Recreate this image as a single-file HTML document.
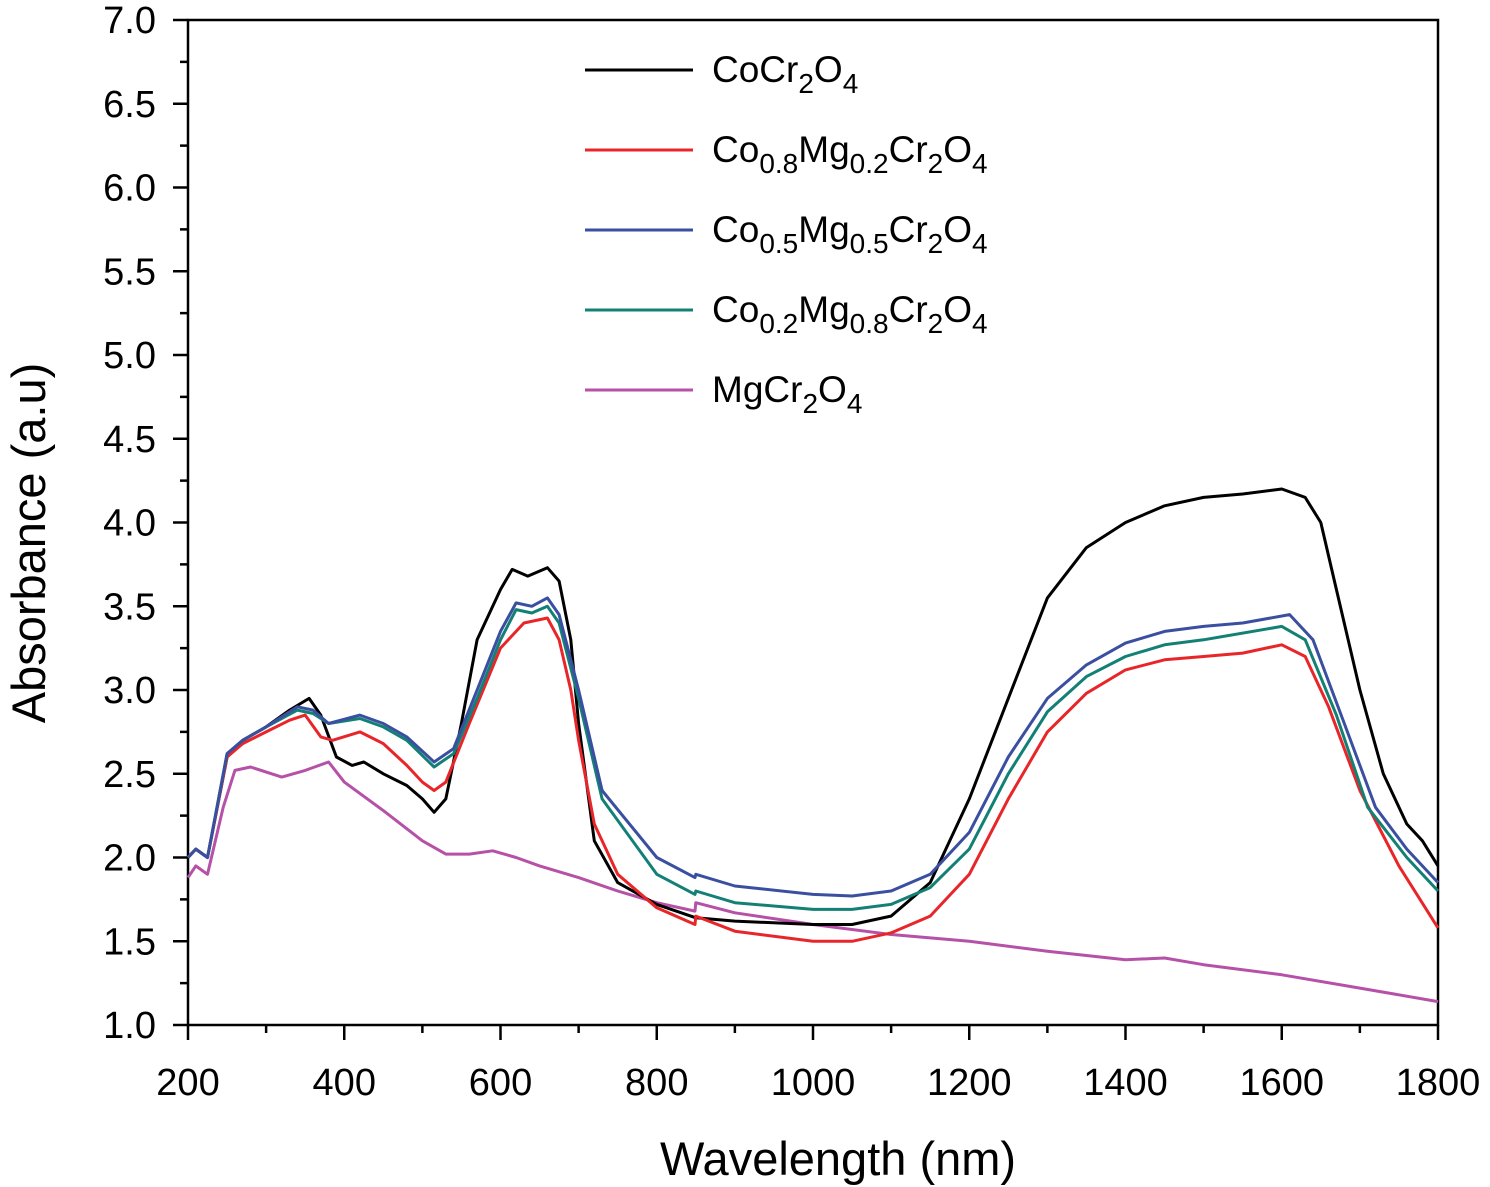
<!DOCTYPE html>
<html><head><meta charset="utf-8"><style>
body{margin:0;background:#fff;}
svg{display:block;font-family:"Liberation Sans",Arial,sans-serif;}
</style></head><body>
<svg id="chart" width="1490" height="1187" viewBox="0 0 1490 1187"></svg>
<script>
const xTicks=[200,400,600,800,1000,1200,1400,1600,1800];
const yTicks=[1.0,1.5,2.0,2.5,3.0,3.5,4.0,4.5,5.0,5.5,6.0,6.5,7.0];
const seriesNames=["CoCr2O4","Co0.8Mg0.2Cr2O4","Co0.5Mg0.5Cr2O4","Co0.2Mg0.8Cr2O4","MgCr2O4"];
const seriesColors=["#000000","#e8262a","#3a4fa0","#138076","#b651a8"];
const blackX=[200,210,225,250,270,300,330,355,370,390,410,425,450,480,500,515,530,550,570,600,615,635,660,675,690,700,720,750,800,850,900,1000,1050,1100,1150,1200,1250,1300,1350,1400,1450,1500,1550,1600,1630,1650,1670,1700,1730,1760,1780,1800];
const blackY=[2.0,2.05,2.0,2.6,2.7,2.78,2.88,2.95,2.85,2.6,2.55,2.57,2.5,2.43,2.35,2.27,2.35,2.8,3.3,3.6,3.72,3.68,3.73,3.65,3.3,2.8,2.1,1.85,1.72,1.64,1.62,1.6,1.6,1.65,1.85,2.35,2.95,3.55,3.85,4.0,4.1,4.15,4.17,4.2,4.15,4.0,3.6,3.0,2.5,2.2,2.1,1.95];
const redX=[200,210,225,250,270,300,330,350,370,385,420,450,480,500,515,530,560,600,630,660,675,690,700,720,750,800,849,850,900,1000,1050,1100,1150,1200,1250,1300,1350,1400,1450,1500,1550,1600,1630,1660,1700,1750,1800];
const redY=[2.0,2.05,2.0,2.6,2.68,2.75,2.82,2.85,2.72,2.7,2.75,2.68,2.55,2.45,2.4,2.45,2.8,3.25,3.4,3.43,3.3,3.0,2.7,2.2,1.9,1.7,1.6,1.65,1.56,1.5,1.5,1.55,1.65,1.9,2.35,2.75,2.98,3.12,3.18,3.2,3.22,3.27,3.2,2.9,2.4,1.95,1.58];
const blueX=[200,210,225,250,270,300,340,360,380,420,450,480,515,540,570,600,620,640,660,675,700,730,800,849,850,900,1000,1050,1100,1150,1200,1250,1300,1350,1400,1450,1500,1550,1610,1640,1680,1720,1760,1800];
const blueY=[2.0,2.05,2.0,2.62,2.7,2.78,2.9,2.88,2.8,2.85,2.8,2.72,2.57,2.65,3.0,3.35,3.52,3.5,3.55,3.45,3.0,2.4,2.0,1.88,1.9,1.83,1.78,1.77,1.8,1.9,2.15,2.6,2.95,3.15,3.28,3.35,3.38,3.4,3.45,3.3,2.8,2.3,2.05,1.85];
const tealX=[200,210,225,250,270,300,340,360,380,420,450,480,515,540,570,600,620,640,660,675,700,730,800,849,850,900,1000,1050,1100,1150,1200,1250,1300,1350,1400,1450,1500,1600,1630,1670,1710,1760,1800];
const tealY=[2.0,2.05,2.0,2.62,2.7,2.78,2.88,2.86,2.8,2.83,2.78,2.7,2.54,2.62,2.95,3.3,3.48,3.46,3.5,3.4,2.95,2.35,1.9,1.78,1.8,1.73,1.69,1.69,1.72,1.82,2.05,2.5,2.87,3.08,3.2,3.27,3.3,3.38,3.3,2.85,2.3,2.0,1.8];
const magX=[200,210,225,245,260,280,320,350,380,400,450,500,530,560,590,620,650,700,750,800,849,850,900,1000,1100,1200,1300,1400,1450,1500,1600,1700,1800];
const magY=[1.88,1.95,1.9,2.3,2.52,2.54,2.48,2.52,2.57,2.45,2.28,2.1,2.02,2.02,2.04,2.0,1.95,1.88,1.8,1.73,1.68,1.73,1.67,1.6,1.54,1.5,1.44,1.39,1.4,1.36,1.3,1.22,1.14];
const allX=[blackX,redX,blueX,tealX,magX];
const allY=[blackY,redY,blueY,tealY,magY];

const NS="http://www.w3.org/2000/svg";
const svg=document.getElementById('chart');
const L=188,R=1438,T=20,B=1025;
const sx=v=>L+(v-200)/1600*(R-L);
const sy=v=>B-(v-1)/6*(B-T);
function mk(tag,attrs,parent){const e=document.createElementNS(NS,tag);for(const k in attrs)e.setAttribute(k,attrs[k]);(parent||svg).appendChild(e);return e;}

const frame=mk('rect',{x:L,y:T,width:R-L,height:B-T,fill:'none',stroke:'#000','stroke-width':2.5});



for(let i=0;i<xTicks.length;i++){
  const x=sx(xTicks[i]);
  const t=mk('line',{x1:x,y1:B,x2:x,y2:B+15,stroke:'#000','stroke-width':2.5});
  
  
  const lb=mk('text',{x:x,y:B+70,'text-anchor':'middle','font-size':38});
  lb.textContent=xTicks[i];
  
  
  if(i<xTicks.length-1){
    const xm=sx((xTicks[i]+xTicks[i+1])/2);
    const m=mk('line',{x1:xm,y1:B,x2:xm,y2:B+8,stroke:'#000','stroke-width':2.5});
    
    
  }
}
for(let i=0;i<yTicks.length;i++){
  const y=sy(yTicks[i]);
  const t=mk('line',{x1:L-15,y1:y,x2:L,y2:y,stroke:'#000','stroke-width':2.5});
  
  
  const lb=mk('text',{x:L-32,y:y+13,'text-anchor':'end','font-size':38});
  lb.textContent=yTicks[i].toFixed(1);
  
  
  if(i<yTicks.length-1){
    const ym=sy((yTicks[i]+yTicks[i+1])/2);
    const m=mk('line',{x1:L-8,y1:ym,x2:L,y2:ym,stroke:'#000','stroke-width':2.5});
    
    
  }
}
const xt=mk('text',{x:838,y:1175,'text-anchor':'middle','font-size':47});
xt.textContent='Wavelength (nm)';


const yt=mk('text',{x:0,y:0,'text-anchor':'middle','font-size':47,transform:'translate(45,543) rotate(-90)'});
yt.textContent='Absorbance (a.u)';



const order=[4,0,1,3,2];
for(const s of order){
  const d=allX[s].map((v,j)=>(j?'L':'M')+sx(v).toFixed(1)+','+sy(allY[s][j]).toFixed(1)).join(' ');
  const p=mk('path',{d:d,fill:'none',stroke:seriesColors[s],'stroke-width':3,'stroke-linejoin':'round'});
  
  
}

const S='font-size="28"';
const legendHTML=[
 `CoCr<tspan dy="11" ${S}>2</tspan><tspan dy="-11">O</tspan><tspan dy="11" ${S}>4</tspan>`,
 `Co<tspan dy="11" ${S}>0.8</tspan><tspan dy="-11">Mg</tspan><tspan dy="11" ${S}>0.2</tspan><tspan dy="-11">Cr</tspan><tspan dy="11" ${S}>2</tspan><tspan dy="-11">O</tspan><tspan dy="11" ${S}>4</tspan>`,
 `Co<tspan dy="11" ${S}>0.5</tspan><tspan dy="-11">Mg</tspan><tspan dy="11" ${S}>0.5</tspan><tspan dy="-11">Cr</tspan><tspan dy="11" ${S}>2</tspan><tspan dy="-11">O</tspan><tspan dy="11" ${S}>4</tspan>`,
 `Co<tspan dy="11" ${S}>0.2</tspan><tspan dy="-11">Mg</tspan><tspan dy="11" ${S}>0.8</tspan><tspan dy="-11">Cr</tspan><tspan dy="11" ${S}>2</tspan><tspan dy="-11">O</tspan><tspan dy="11" ${S}>4</tspan>`,
 `MgCr<tspan dy="11" ${S}>2</tspan><tspan dy="-11">O</tspan><tspan dy="11" ${S}>4</tspan>`
];
for(let i=0;i<5;i++){
  const y=70+i*80;
  const g=mk('g',{});
  
  
  mk('line',{x1:585,y1:y,x2:693,y2:y,stroke:seriesColors[i],'stroke-width':3},g);
  const t=mk('text',{x:712,y:y+12,'font-size':37},g);
  t.innerHTML=legendHTML[i];
}
</script>
</body></html>
